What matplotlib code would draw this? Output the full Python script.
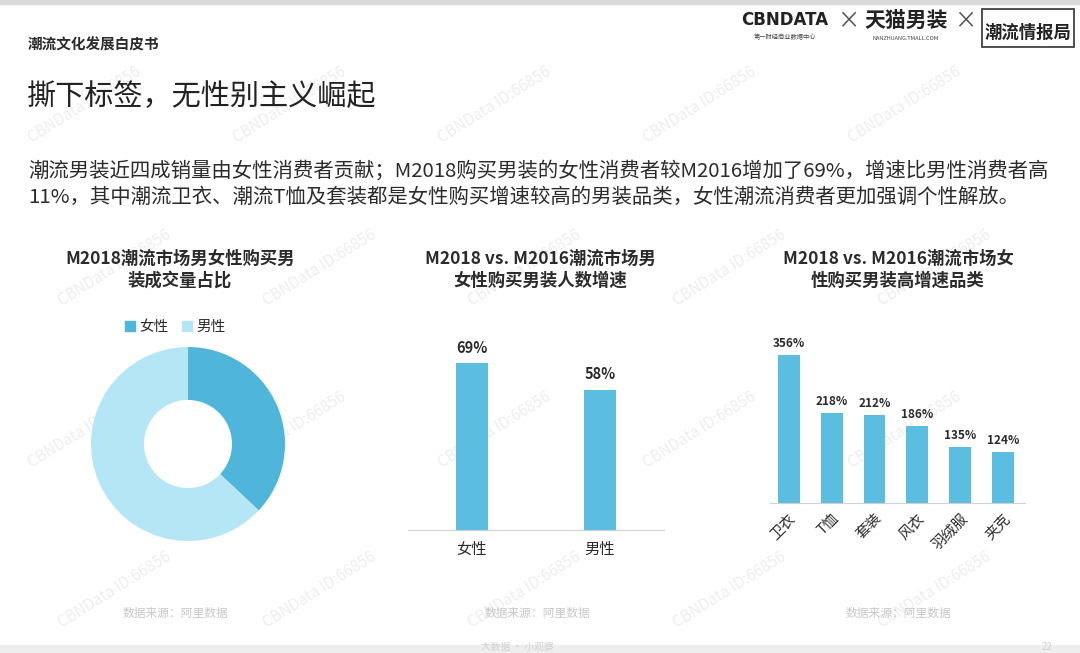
import matplotlib
matplotlib.use("Agg")
import matplotlib.pyplot as plt
from matplotlib.patches import Patch, Rectangle

plt.rcParams['font.family'] = ['Noto Sans CJK SC', 'DejaVu Sans']

# data
share_labels = ["女性", "男性"]
share_values = [37, 63]

growth_labels = ["女性", "男性"]
growth_values = [69, 58]

cat_labels = ["卫衣", "T恤", "套装", "风衣", "羽绒服", "夹克"]
cat_values = [356, 218, 212, 186, 135, 124]

W, H = 1080, 653
DARK = "#2b2b2b"
BLUE = "#5bbde0"
PIE_COLORS = ["#4fb5da", "#b5e6f5"]


def fx(px):
    return px / W


def fy(py):
    return 1 - py / H


def add_axes_px(fig, left, top, right, bottom):
    return fig.add_axes([fx(left), fy(bottom), (right - left) / W, (bottom - top) / H])


fig = plt.figure(figsize=(W / 100, H / 100), dpi=100)
fig.patch.set_facecolor("white")

# page frame
fig.patches.append(Rectangle((0, fy(4)), 1, 4 / H, transform=fig.transFigure,
                             color="#d9d9d9", zorder=-2))
fig.patches.append(Rectangle((0, 0), 1, 8 / H, transform=fig.transFigure,
                             color="#eeeeee", zorder=-2))

# watermarks
for row, yy in enumerate([105, 268, 430, 590]):
    for col in range(5):
        xx = 85 + col * 205 + (30 if row % 2 else 0)
        fig.text(fx(xx), fy(yy), "CBNData ID:66856", rotation=32, fontsize=11,
                 color="#eeeeee", ha="center", va="center", zorder=-1)

# header
fig.text(fx(28), fy(45), "潮流文化发展白皮书", fontsize=10.5, fontweight="bold",
         color=DARK, va="center")
fig.text(fx(785), fy(20), "CBNDATA", fontsize=12, fontweight="bold",
         color="#222222", ha="center", va="center", family="DejaVu Sans")
fig.text(fx(785), fy(37), "第一财经商业数据中心", fontsize=4.5, color="#444444",
         ha="center", va="center")
fig.text(fx(848), fy(22), "×", fontsize=16, color="#555555", ha="center", va="center")
fig.text(fx(906), fy(21), "天猫男装", fontsize=15, fontweight="bold",
         color="#222222", ha="center", va="center")
fig.text(fx(906), fy(39), "NANZHUANG.TMALL.COM", fontsize=4, color="#444444",
         ha="center", va="center")
fig.text(fx(965), fy(22), "×", fontsize=16, color="#555555", ha="center", va="center")
fig.text(fx(1028), fy(33), "潮流情报局", fontsize=12.5, fontweight="bold",
         color="#222222", ha="center", va="center")
fig.patches.append(Rectangle((fx(982), fy(47)), 92 / W, 38 / H,
                             transform=fig.transFigure, fill=False,
                             edgecolor="#333333", linewidth=1.2))

# title and text
fig.text(fx(27), fy(97), "撕下标签，无性别主义崛起", fontsize=21, color="#222222",
         va="center")
fig.text(fx(28), fy(171),
         "潮流男装近四成销量由女性消费者贡献；M2018购买男装的女性消费者较M2016增加了69%，增速比男性消费者高",
         fontsize=14.7, color=DARK, va="center")
fig.text(fx(28), fy(197),
         "11%，其中潮流卫衣、潮流T恤及套装都是女性购买增速较高的男装品类，女性潮流消费者更加强调个性解放。",
         fontsize=14.7, color=DARK, va="center")

# panel titles
fig.text(fx(180), fy(270), "M2018潮流市场男女性购买男\n装成交量占比", fontsize=12.5,
         fontweight="bold", color=DARK, ha="center", va="center", linespacing=1.25)
fig.text(fx(540), fy(270), "M2018 vs. M2016潮流市场男\n女性购买男装人数增速", fontsize=12.5,
         fontweight="bold", color=DARK, ha="center", va="center", linespacing=1.25)
fig.text(fx(898), fy(270), "M2018 vs. M2016潮流市场女\n性购买男装高增速品类", fontsize=12.5,
         fontweight="bold", color=DARK, ha="center", va="center", linespacing=1.25)

# donut
ax1 = add_axes_px(fig, 78, 334, 298, 554)
ax1.pie(share_values, colors=PIE_COLORS, startangle=90, counterclock=False,
        radius=0.97, wedgeprops=dict(width=0.53, linewidth=0))
ax1.set_xlim(-1.1, 1.1)
ax1.set_ylim(-1.1, 1.1)
ax1.set_aspect("equal")
ax1.axis("off")
handles = [Patch(color=c, label=l) for c, l in zip(PIE_COLORS, share_labels)]
fig.legend(handles=handles, loc="center", bbox_to_anchor=(fx(175), fy(327)), ncol=2,
           frameon=False, fontsize=10.5, handlelength=0.7, handleheight=0.7,
           handletextpad=0.3, columnspacing=0.9, labelcolor=DARK)

# middle bars
ax2 = add_axes_px(fig, 408, 288, 664, 530)
x2 = range(len(growth_values))
bars2 = ax2.bar(x2, growth_values, width=0.25, color=BLUE)
ax2.set_xlim(-0.5, 1.5)
ax2.set_ylim(0, 100)
for b, v in zip(bars2, growth_values):
    ax2.text(b.get_x() + b.get_width() / 2, v + 3, f"{v}%", ha="center", va="bottom",
             fontsize=10.5, fontweight="bold", color=DARK)
ax2.set_xticks(list(x2))
ax2.set_xticklabels(growth_labels, fontsize=11, color=DARK)
ax2.tick_params(axis="x", length=0, pad=8)
ax2.set_yticks([])
for s in ["top", "right", "left"]:
    ax2.spines[s].set_visible(False)
ax2.spines["bottom"].set_color("#d0d0d0")
ax2.patch.set_alpha(0)

# right bars
ax3 = add_axes_px(fig, 770, 337, 1025, 503)
x3 = range(len(cat_values))
bars3 = ax3.bar(x3, cat_values, width=0.51, color=BLUE)
ax3.set_xlim(-0.44, 5.51)
ax3.set_ylim(0, 400)
for b, v in zip(bars3, cat_values):
    ax3.text(b.get_x() + b.get_width() / 2, v + 12, f"{v}%", ha="center", va="bottom",
             fontsize=8.5, fontweight="bold", color=DARK)
ax3.set_xticks(list(x3))
ax3.set_xticklabels(cat_labels, fontsize=10.5, color=DARK, rotation=45,
                    ha="right", rotation_mode="anchor")
ax3.tick_params(axis="x", length=0, pad=6)
ax3.set_yticks([])
for s in ["top", "right", "left"]:
    ax3.spines[s].set_visible(False)
ax3.spines["bottom"].set_color("#d0d0d0")
ax3.patch.set_alpha(0)

# sources and footer
for sx in [175, 537, 898]:
    fig.text(fx(sx), fy(613), "数据来源：阿里数据", fontsize=8.5, color="#c8c8c8",
             ha="center", va="center")
fig.text(fx(517), fy(647), "大数据 · 小观察", fontsize=7, color="#d0d0d0",
         ha="center", va="center")
fig.text(fx(1047), fy(647), "22", fontsize=7, color="#d0d0d0", ha="center", va="center")

fig.savefig("out.png", dpi=100)
